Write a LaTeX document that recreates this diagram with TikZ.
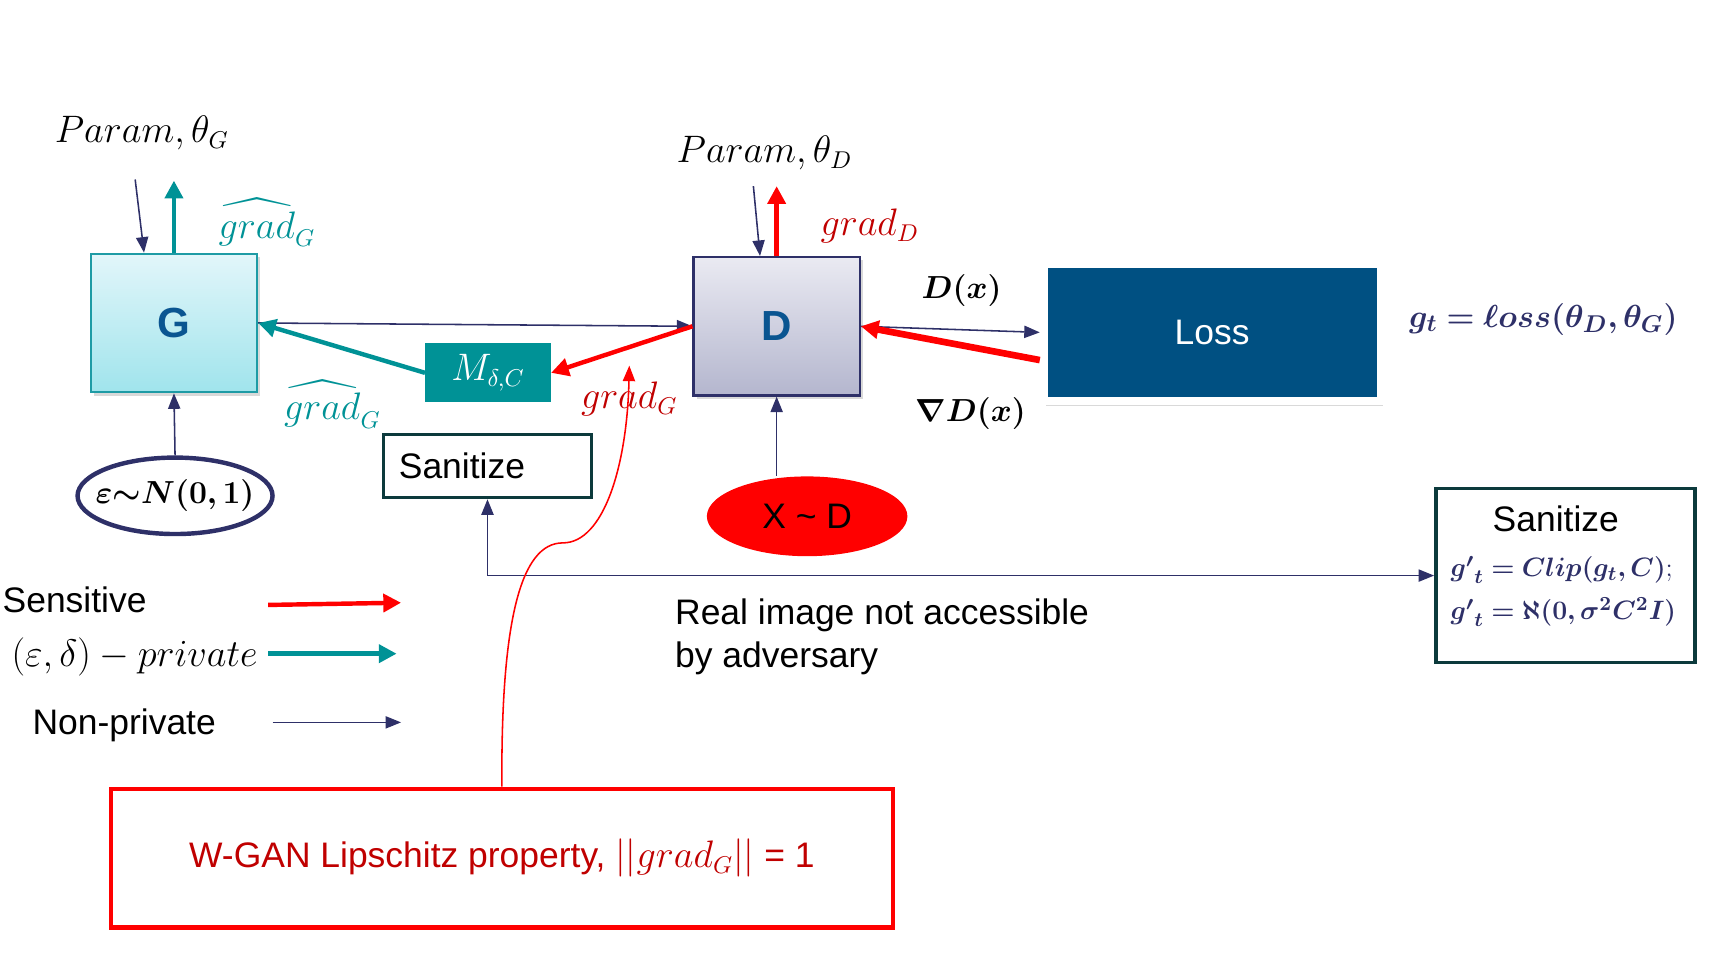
\documentclass[tikz,border=0pt]{standalone}
\usepackage[no-math]{fontspec}
\setmainfont{Liberation Sans}
\usepackage{amsmath}
\usepackage{amssymb}
\usepackage{bm}
\usetikzlibrary{arrows.meta,shadows,shapes.geometric}

\definecolor{navyc}{RGB}{46,48,104}
\definecolor{tealc}{RGB}{0,146,150}
\definecolor{lossblue}{RGB}{0,80,130}
\definecolor{sanline}{RGB}{12,58,60}
\definecolor{darkred}{RGB}{192,0,0}
\definecolor{gtop}{RGB}{226,246,250}
\definecolor{gbot}{RGB}{160,228,236}
\definecolor{gline}{RGB}{30,155,165}
\definecolor{dtop}{RGB}{234,234,242}
\definecolor{dbot}{RGB}{180,182,206}
\definecolor{letterblue}{RGB}{10,85,145}

\tikzset{
  sens/.style={draw=red, line width=2pt, -{Triangle[length=8pt,width=8pt]}},
  priv/.style={draw=tealc, line width=2pt, -{Triangle[length=8pt,width=8pt]}},
  nonpriv/.style={draw=navyc, line width=0.7pt, -{Triangle[length=7pt,width=5.5pt]}},
  netbox/.style={rectangle, minimum width=75pt, minimum height=62.5pt, line width=1pt,
    drop shadow={shadow xshift=1.5pt, shadow yshift=-1.5pt, opacity=0.3}},
  lbl/.style={inner sep=0pt, font=\fontsize{16}{19}\selectfont},
  sanbox/.style={draw=sanline, line width=1.6pt, rectangle}
}

\begin{document}
\begin{tikzpicture}[x=0.5pt, y=-0.5pt, font=\fontsize{16}{19.5}\selectfont]
\useasboundingbox (0,0) rectangle (1566,863);

% boxes
\node (G) [netbox, draw=gline, top color=gtop, bottom color=gbot] at (157,291.5)
  {\fontsize{19}{19}\selectfont\bfseries\color{letterblue}G};
\node (D) [netbox, draw=navyc, top color=dtop, bottom color=dbot] at (701,294.5)
  {\fontsize{19}{19}\selectfont\bfseries\color{letterblue}D};
\node (M) [rectangle, fill=tealc, minimum width=56.5pt, minimum height=26.5pt, text=white] at (440.5,336.5)
  {$M_{\delta,C}$};
\node (Loss) [rectangle, fill=lossblue, draw=white, line width=3.5pt, minimum width=152pt, minimum height=62pt,
  text=white, drop shadow={shadow xshift=1pt, shadow yshift=-2pt, opacity=0.3}] at (1094,300) {Loss};
\node (eps) [ellipse, draw=navyc, line width=2pt, minimum width=88pt, minimum height=34.5pt, inner sep=0pt] at (158,447.5)
  {\makebox[0pt]{\fontsize{14}{16}\selectfont$\bm{\varepsilon{\sim}N(0,1)}$}};
\node (xd) [ellipse, fill=red, minimum width=90.5pt, minimum height=36pt] at (728.5,466) {X \textasciitilde{} D};
\node (sansmall) [sanbox, text width=80pt, inner xsep=7pt, minimum height=28.5pt, align=left] at (440,420.5) {Sanitize};
\node (sanbig) [sanbox, minimum width=117pt, minimum height=78.5pt] at (1413,519.5) {};
\node (santxt) [anchor=north, inner sep=0pt, align=left] at (1411,456)
  {\makebox[95pt]{Sanitize}\\[1pt]
   {\color{navyc}\fontsize{12.5}{16}\selectfont$\bm{{g'}_t = Clip(g_t, C)};$}\\
   {\color{navyc}\fontsize{12.5}{16}\selectfont$\bm{{g'}_t = \aleph(0,\sigma^2C^2I)}$}};
\node (wgan) [rectangle, draw=red, line width=2pt, minimum width=353pt, minimum height=62.5pt, text=darkred] at (453,774.5)
  {W-GAN Lipschitz property, $||grad_G||$ = 1};

% labels
\node (paramG) [lbl] at (128,120) {$Param, \theta_G$};
\node (paramD) [lbl] at (690,138) {$Param, \theta_D$};
\node (gradGtop) [lbl, text=tealc] at (241,201) {$\widehat{grad}_G$};
\node (gradGlow) [lbl, text=tealc] at (300,365) {$\widehat{grad}_G$};
\node (gradGred) [lbl, text=darkred] at (568,360) {$grad_G$};
\node (gradD) [lbl, text=darkred] at (785,204) {$grad_D$};
\node (Dx) [lbl, font=\fontsize{15}{18}\selectfont] at (868,262) {$\bm{D(x)}$};
\node (nDx) [lbl, font=\fontsize{15}{18}\selectfont] at (876,373) {$\bm{\nabla D(x)}$};
\node (lossEq) [lbl, text=navyc, font=\fontsize{15.5}{18}\selectfont] at (1393,288)
  {$\bm{g_t = \ell oss(\theta_D, \theta_G)}$};
\node (real) [anchor=west, inner sep=0pt, align=left] at (609,574.5) {Real image not accessible\\by adversary};

% legend
\node (lsens) [anchor=west, inner sep=0pt] at (2,541) {Sensitive};
\node (lpriv) [anchor=west, inner sep=0pt] at (10,593) {$(\varepsilon, \delta) - private$};
\node (lnon) [anchor=west, inner sep=0pt] at (29,655) {Non-private};
\coordinate (ls0) at (242,546); \coordinate (ls1) at (362,544);
\coordinate (lp0) at (242,590); \coordinate (lp1) at (358,590);
\coordinate (ln0) at (246,652); \coordinate (ln1) at (362,652);
\draw [sens] (ls0) -- (ls1);
\draw [priv] (lp0) -- (lp1);
\draw [nonpriv] (ln0) -- (ln1);

% free ends
\coordinate (pGin) at (122,162);
\coordinate (pGout) at (157,163);
\coordinate (pDin) at (680,168);
\coordinate (pDout) at (701,168);
\coordinate (kink) at (508,490);
\coordinate (gradtip) at (568,330);

% connectors
\draw [nonpriv] (pGin) -- ([xshift=-13.5pt]G.north);
\draw [priv] (G.north) -- (pGout);
\draw [nonpriv] (eps.north) -- (G.south);
\draw [nonpriv] (G.east) -- (D.west);
\draw [priv] (M.west) -- (G.east);
\draw [sens] (D.west) -- (M.east);
\draw [nonpriv] (pDin) -- ([xshift=-7.5pt]D.north);
\draw [sens] (D.north) -- (pDout);
\draw [nonpriv] (D.east) -- (Loss.west);
\draw [sens, line width=3pt] ([yshift=-12.5pt]Loss.west) -- (D.east);
\draw [nonpriv] (D.south |- xd.north) -- (D.south);
\draw [nonpriv, {Triangle[length=7pt,width=5.5pt]}-{Triangle[length=7pt,width=5.5pt]}] (sansmall.south) |- (sanbig.west);
\draw [red, line width=0.7pt, -{Triangle[length=7pt,width=5.5pt]}] (wgan.north)
  .. controls (452,560) and (470,490) .. (kink)
  .. controls (545,490) and (566,420) .. (gradtip);
\end{tikzpicture}
\end{document}
